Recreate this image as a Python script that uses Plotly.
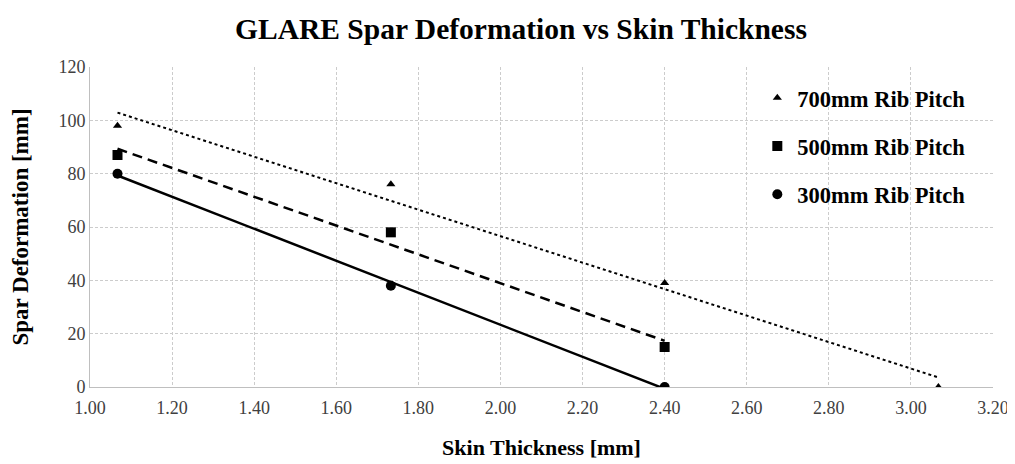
import numpy as np
import plotly.graph_objects as go

# Data
x_700 = [1.067, 1.733, 2.40, 3.067]
y_700 = [98, 76, 39, 0]
x_500 = [1.067, 1.733, 2.40]
y_500 = [87, 58, 15]
x_300 = [1.067, 1.733, 2.40]
y_300 = [80, 38, 0]

names = ["700mm Rib Pitch", "500mm Rib Pitch", "300mm Rib Pitch"]
x_ticks = [1.00, 1.20, 1.40, 1.60, 1.80, 2.00, 2.20, 2.40, 2.60, 2.80, 3.00, 3.20]
y_ticks = [0, 20, 40, 60, 80, 100, 120]

fig = go.Figure()

series = [
    (x_700, y_700, names[0], "triangle-up", 8, dict(dash="dot", width=2)),
    (x_500, y_500, names[1], "square", 10, dict(dash="10px,6px", width=2.5)),
    (x_300, y_300, names[2], "circle", 10, dict(dash="solid", width=2.5)),
]

for xs, ys, nm, sym, sz, ln in series:
    # linear trendline
    k, b = np.polyfit(xs, ys, 1)
    xt = np.array([min(xs), max(xs)])
    fig.add_trace(go.Scatter(x=xt, y=k * xt + b, mode="lines",
                             line=dict(color="black", **ln),
                             showlegend=False, hoverinfo="skip"))
for i, (xs, ys, nm, sym, sz, ln) in enumerate(series):
    fig.add_trace(go.Scatter(x=xs, y=ys, mode="markers", name=nm,
                             legendgroup=f"g{i}",
                             marker=dict(symbol=sym, size=sz, color="black")))

font_serif = "Liberation Serif, Times New Roman, serif"

fig.update_layout(
    width=1007, height=456,
    paper_bgcolor="white", plot_bgcolor="white",
    margin=dict(l=82, r=22, t=59, b=77, autoexpand=False),
    title=dict(text="<b>GLARE Spar Deformation vs Skin Thickness</b>",
               x=0.5094, xanchor="center", y=0.954, yanchor="middle",
               font=dict(family=font_serif, size=29.5, color="black")),
    font=dict(family=font_serif, color="#404040"),
    legend=dict(x=0.739, y=0.97, xanchor="left", yanchor="top",
                bgcolor="rgba(255,255,255,0)",
                font=dict(family=font_serif, size=22.5, color="black", weight="bold"),
                tracegroupgap=16, itemwidth=30),
    xaxis=dict(range=[1.0, 3.2], tickvals=x_ticks,
               ticktext=[f"{v:.2f}" for v in x_ticks],
               showgrid=True, gridcolor="#cccccc", griddash="3px,2px", gridwidth=1,
               showline=True, linecolor="#bfbfbf", linewidth=1,
               zeroline=False, ticks="", ticklabelstandoff=4, automargin=False,
               tickfont=dict(family=font_serif, size=18, color="#404040"),
               title=dict(text="<b>Skin Thickness [mm]</b>", standoff=23,
                          font=dict(family=font_serif, size=22, color="black"))),
    yaxis=dict(range=[0, 120], tickvals=y_ticks,
               showgrid=True, gridcolor="#cccccc", griddash="3px,2px", gridwidth=1,
               showline=True, linecolor="#bfbfbf", linewidth=1,
               zeroline=False, ticks="", automargin=False,
               tickfont=dict(family=font_serif, size=18, color="#404040"),
               title=dict(text="<b>Spar Deformation [mm]</b>", standoff=25,
                          font=dict(family=font_serif, size=23, color="black"))),
)

fig.write_html("out.html")
